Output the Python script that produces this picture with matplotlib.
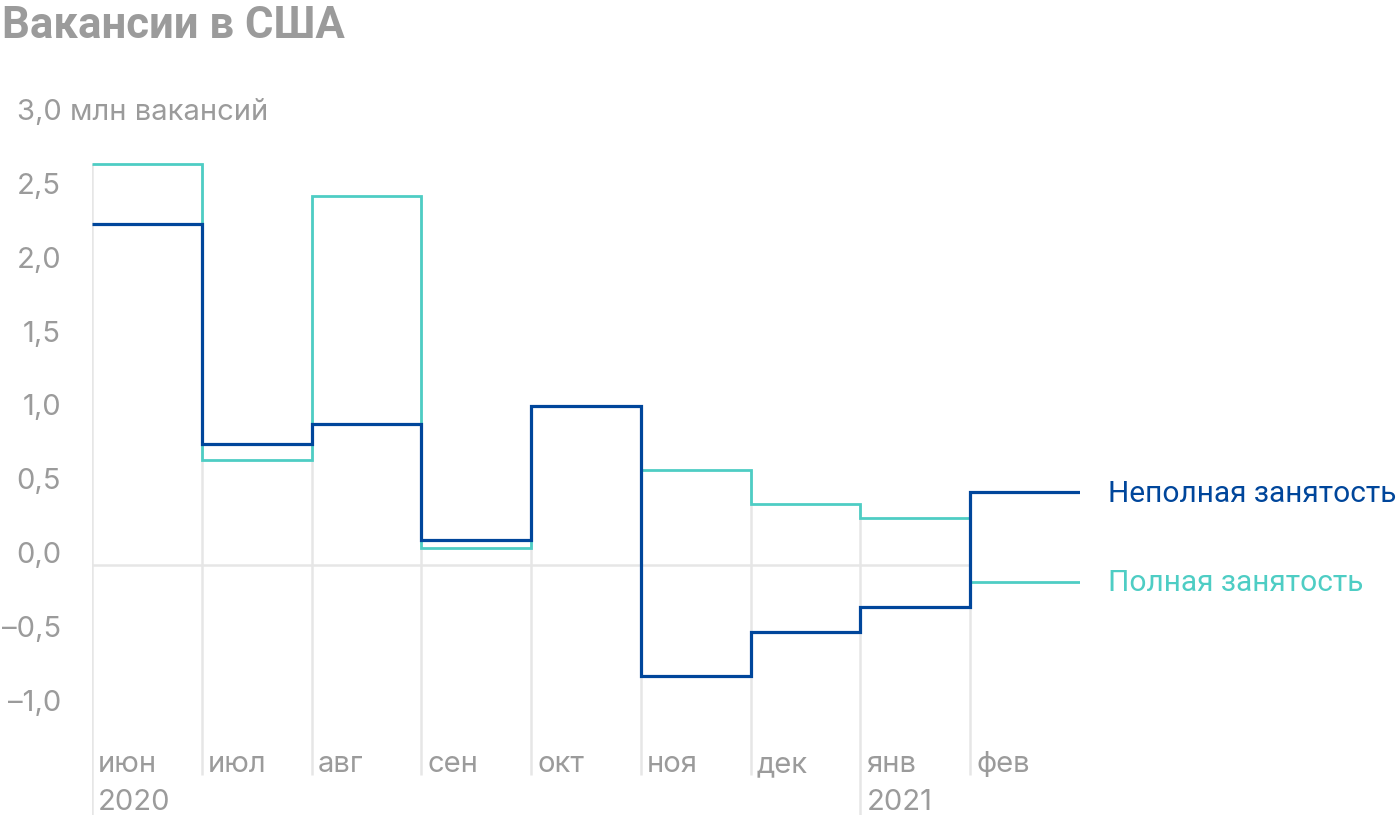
import numpy as np
import matplotlib
matplotlib.use("Agg")
import matplotlib.pyplot as plt

plt.rcParams['font.family'] = ['Roboto', 'DejaVu Sans']

# ---- data ----
months = ["июн", "июл", "авг", "сен", "окт", "ноя", "дек", "янв", "фев"]
years = {0: "2020", 7: "2021"}
part_time = [2.31, 0.82, 0.955, 0.17, 1.077, -0.75, -0.455, -0.285, 0.495]
full_time = [2.72, 0.71, 2.50, 0.115, 1.077, 0.645, 0.415, 0.318, -0.115]
yticks = [2.5, 2.0, 1.5, 1.0, 0.5, 0.0, -0.5, -1.0]
ytick_labels = ["2,5", "2,0", "1,5", "1,0", "0,5", "0,0", "–0,5", "–1,0"]
top_label = "3,0 млн вакансий"
title = "Вакансии в США"
name_part = "Неполная занятость"
name_full = "Полная занятость"

DARK = "#00469b"
TEAL = "#4ecdc4"
GRAY = "#9b9b9b"
GRID = "#e6e6e6"
AXFONT = ['Inter', 'Roboto', 'DejaVu Sans']
AXSIZE = 21

W, H = 1400, 824
fig = plt.figure(figsize=(W / 100, H / 100), dpi=100)
x0, x1 = 92, 1080
yb, yt = 815, 40
ax = fig.add_axes([x0 / W, (H - yb) / H, (x1 - x0) / W, (yb - yt) / H])
ax.set_axis_off()
ppu = 147.6
zero_px = 565
ax.set_xlim(0, len(months))
ax.set_ylim((zero_px - yb) / ppu, (zero_px - yt) / ppu)

edges = np.arange(len(months) + 1)
px_per_x = (x1 - x0) / len(months)

# vertical gridlines
for i in range(len(months)):
    vals = [part_time[i], full_time[i]]
    if i > 0:
        vals += [part_time[i - 1], full_time[i - 1]]
    top = max(vals)
    bottom = -1.694 if i in years else -1.423
    ax.vlines(i, bottom, top, color=GRID, lw=1.8, zorder=1)

# zero line
ax.hlines(0, 0, len(months) - 1, color=GRID, lw=1.8, zorder=1)

# steps
ax.stairs(full_time, edges, baseline=None, color=TEAL, lw=2.0, zorder=3)
ax.stairs(part_time, edges, baseline=None, color=DARK, lw=2.3, zorder=4)

# y tick labels
lab_x = (61 - x0) / px_per_x
for v, t in zip(yticks, ytick_labels):
    ax.text(lab_x, v + 2 / ppu, t, ha="right", va="baseline", fontsize=AXSIZE,
            color=GRAY, clip_on=False, family=AXFONT)
ax.text((17 - x0) / px_per_x, 3.0 + 2 / ppu, top_label, ha="left", va="baseline",
        fontsize=AXSIZE, color=GRAY, clip_on=False, family=AXFONT)

# month labels
for i, m in enumerate(months):
    ax.text(i + 6 / px_per_x, (zero_px - 772) / ppu, m, ha="left", va="baseline",
            fontsize=AXSIZE, color=GRAY, family=AXFONT)
for i, yv in years.items():
    ax.text(i + 6 / px_per_x, (zero_px - 810) / ppu, yv, ha="left", va="baseline",
            fontsize=AXSIZE, color=GRAY, family=AXFONT)

# series labels
lx = len(months) + 28 / px_per_x
ax.text(lx, part_time[-1] - 10 / ppu, name_part, ha="left", va="baseline",
        fontsize=21.5, color=DARK, clip_on=False)
ax.text(lx, full_time[-1] - 9 / ppu, name_full, ha="left", va="baseline",
        fontsize=21.5, color=TEAL, clip_on=False)

fig.text(2 / W, 1 - 38 / H, title, ha="left", va="baseline", fontsize=31.5,
         fontweight="bold", color=GRAY)

fig.savefig("out.png", dpi=100, facecolor="white")
